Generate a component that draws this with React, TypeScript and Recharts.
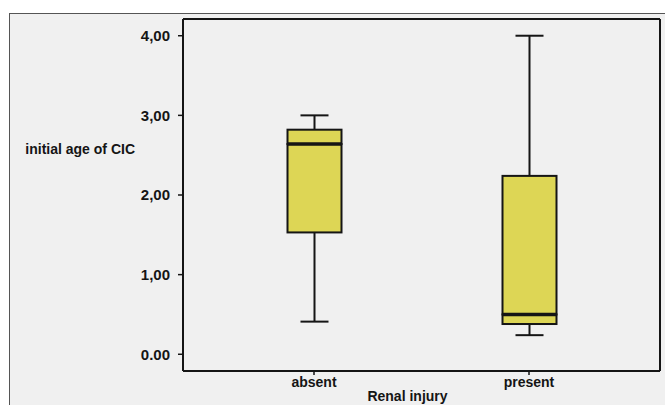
import { ComposedChart, Bar, XAxis, YAxis } from "recharts";

// box plot values
const categories = ["absent", "present"];
const mins = [0.41, 0.24];
const q1s = [1.53, 0.38];
const medians = [2.64, 0.5];
const q3s = [2.82, 2.24];
const maxs = [3.0, 4.0];

const yTicks = [0, 1, 2, 3, 4];
const yTickLabels = ["0.00", "1,00", "2,00", "3,00", "4,00"];

const FILL = "#ddd655";
const INK = "#151515";
const FONT = "'Liberation Sans', Arial, sans-serif";

// stacked segments: invisible base, lower whisker, lower box, upper box, upper whisker
const data = categories.map((name, i) => ({
  name,
  base: mins[i],
  lowWhisker: q1s[i] - mins[i],
  lowBox: medians[i] - q1s[i],
  highBox: q3s[i] - medians[i],
  highWhisker: maxs[i] - q3s[i],
}));

const CAP = 14;

function LowWhisker(p: any) {
  const cx = p.x + p.width / 2;
  const bottom = p.y + p.height;
  return (
    <g stroke={INK} strokeWidth={2}>
      <line x1={cx} x2={cx} y1={p.y} y2={bottom} />
      <line x1={cx - CAP} x2={cx + CAP} y1={bottom} y2={bottom} />
    </g>
  );
}

function HighWhisker(p: any) {
  const cx = p.x + p.width / 2;
  return (
    <g stroke={INK} strokeWidth={2}>
      <line x1={cx} x2={cx} y1={p.y} y2={p.y + p.height} />
      <line x1={cx - CAP} x2={cx + CAP} y1={p.y} y2={p.y} />
    </g>
  );
}

function BoxPart(p: any) {
  return (
    <rect x={p.x} y={p.y} width={p.width} height={p.height} fill={FILL} stroke={INK} strokeWidth={2} />
  );
}

// upper half of the box, median line along its bottom edge
function UpperBox(p: any) {
  const yMed = p.y + p.height;
  return (
    <g>
      <BoxPart {...p} />
      <line x1={p.x} x2={p.x + p.width} y1={yMed} y2={yMed} stroke={INK} strokeWidth={3.5} />
    </g>
  );
}

export default function App() {
  return (
    <div style={{ position: "absolute", left: 0, top: 0, width: 665, height: 405, background: "#fff", overflow: "hidden" }}>
      <div
        style={{
          position: "absolute",
          left: 9,
          top: 13,
          width: 656,
          height: 392,
          background: "#f0f0f0",
          borderLeft: "1.5px solid #555",
          borderTop: "1.5px solid #555",
        }}
      />
      <div style={{ position: "absolute", left: 0, top: 0 }}>
        <ComposedChart
          width={665}
          height={405}
          data={data}
          margin={{ top: 18, right: 4, bottom: 0, left: 123 }}
          barCategoryGap={0}
        >
          <XAxis
            dataKey="name"
            type="category"
            padding={{ left: 23.5, right: 23.5 }}
            height={34}
            axisLine={{ stroke: INK, strokeWidth: 2 }}
            tickLine={{ stroke: INK, strokeWidth: 1.5 }}
            tickSize={4}
            tickMargin={2}
            tick={{ fill: INK, fontSize: 14, fontWeight: 700, fontFamily: FONT }}
            label={{
              content: ({ viewBox }: any) => (
                <text
                  x={viewBox.x + viewBox.width / 2 - 14}
                  y={viewBox.y + 30}
                  textAnchor="middle"
                  fill={INK}
                  fontSize={14}
                  fontWeight={700}
                  fontFamily={FONT}
                >
                  Renal injury
                </text>
              ),
            }}
          />
          <XAxis
            xAxisId="top"
            dataKey="name"
            orientation="top"
            height={1}
            tick={false}
            tickLine={false}
            axisLine={{ stroke: INK, strokeWidth: 2 }}
          />
          <YAxis
            type="number"
            domain={[-0.21, 4.21]}
            ticks={yTicks}
            width={60}
            interval={0}
            tickFormatter={(v: number) => yTickLabels[yTicks.indexOf(v)]}
            axisLine={{ stroke: INK, strokeWidth: 2 }}
            tickLine={{ stroke: INK, strokeWidth: 1.5 }}
            tickSize={5}
            tickMargin={8}
            tick={{ fill: INK, fontSize: 15, fontWeight: 700, fontFamily: FONT }}
            label={{
              content: ({ viewBox }: any) => (
                <text
                  x={viewBox.x + 12}
                  y={viewBox.y + 135}
                  textAnchor="end"
                  fill={INK}
                  fontSize={14}
                  fontWeight={700}
                  fontFamily={FONT}
                >
                  initial age of CIC
                </text>
              ),
            }}
          />
          <YAxis
            yAxisId="right"
            orientation="right"
            width={1}
            domain={[-0.21, 4.21]}
            tick={false}
            tickLine={false}
            axisLine={{ stroke: INK, strokeWidth: 2 }}
          />
          <Bar dataKey="base" stackId="a" barSize={54} fill="transparent" isAnimationActive={false} />
          <Bar dataKey="lowWhisker" stackId="a" barSize={54} shape={LowWhisker} isAnimationActive={false} />
          <Bar dataKey="lowBox" stackId="a" barSize={54} shape={BoxPart} isAnimationActive={false} />
          <Bar dataKey="highBox" stackId="a" barSize={54} shape={UpperBox} isAnimationActive={false} />
          <Bar dataKey="highWhisker" stackId="a" barSize={54} shape={HighWhisker} isAnimationActive={false} />
        </ComposedChart>
      </div>
    </div>
  );
}
